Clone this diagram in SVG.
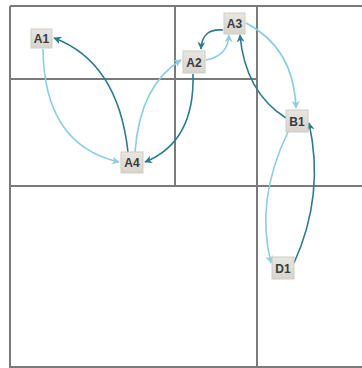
<svg xmlns="http://www.w3.org/2000/svg" width="362" height="368" viewBox="0 0 362 368">
<defs>
<style>
.grid{stroke:#7a7a78;stroke-width:2;fill:none}
.lt{stroke:#8ccde0;stroke-width:1.6;fill:none;marker-end:url(#ahL)}
.dk{stroke:#2e7b8e;stroke-width:1.6;fill:none;marker-end:url(#ahD)}
.nb{fill:url(#ng);stroke:#cfccc4;stroke-width:1}
.nt{font-family:"Liberation Sans",Arial,sans-serif;font-size:12px;font-weight:bold;fill:#3a3a3a;text-anchor:middle}
</style>
<linearGradient id="ng" x1="0" y1="0" x2="0" y2="1">
<stop offset="0" stop-color="#e8e6e0"/>
<stop offset="1" stop-color="#d6d4cc"/>
</linearGradient>
<marker id="ahL" viewBox="0 0 10 10" refX="9" refY="5" markerWidth="8" markerHeight="8" markerUnits="userSpaceOnUse" orient="auto"><path d="M0,0 L10,5 L0,10 L3,5 Z" fill="#8ccde0"/></marker>
<marker id="ahD" viewBox="0 0 10 10" refX="9" refY="5" markerWidth="8" markerHeight="8" markerUnits="userSpaceOnUse" orient="auto"><path d="M0,0 L10,5 L0,10 L3,5 Z" fill="#2e7b8e"/></marker>
</defs>
<rect width="362" height="368" fill="#ffffff"/>
<g id="grid">
<path class="grid" d="M10,6 H362 M10,6 V367 H362 M10,79 H257 M175,6 V186 M10,186 H362 M257,6 V367"/>
</g>
<g id="connectors">
<path class="lt" d="M43,49 Q44,145 119,162"/>
<path class="dk" d="M128,152 Q118,62 54,38"/>
<path class="lt" d="M135,152 Q140,85 181,60"/>
<path class="dk" d="M193,74 Q195,142 145,162"/>
<path class="lt" d="M206,60 Q228,56 229,35"/>
<path class="dk" d="M223,30 Q202,28 201,49"/>
<path class="dk" d="M286,118 Q245,92 240,35"/>
<path class="lt" d="M246,23 Q294,48 296,108"/>
<path class="lt" d="M288,132 Q255,200 271,263"/>
<path class="dk" d="M294,263 Q325,195 309,123"/>
</g>
<g id="A1"><rect class="nb" x="31" y="29" width="21" height="19"/><text class="nt" x="41.5" y="42.5">A1</text></g>
<g id="A2"><rect class="nb" x="183" y="51" width="22" height="22"/><text class="nt" x="194" y="66.5">A2</text></g>
<g id="A3"><rect class="nb" x="224" y="13" width="21" height="21"/><text class="nt" x="234.5" y="28">A3</text></g>
<g id="A4"><rect class="nb" x="121" y="152" width="22" height="21"/><text class="nt" x="132" y="167">A4</text></g>
<g id="B1"><rect class="nb" x="286" y="110" width="22" height="22"/><text class="nt" x="297" y="125.5">B1</text></g>
<g id="D1"><rect class="nb" x="272" y="257" width="22" height="22"/><text class="nt" x="283" y="272.5">D1</text></g>
</svg>
